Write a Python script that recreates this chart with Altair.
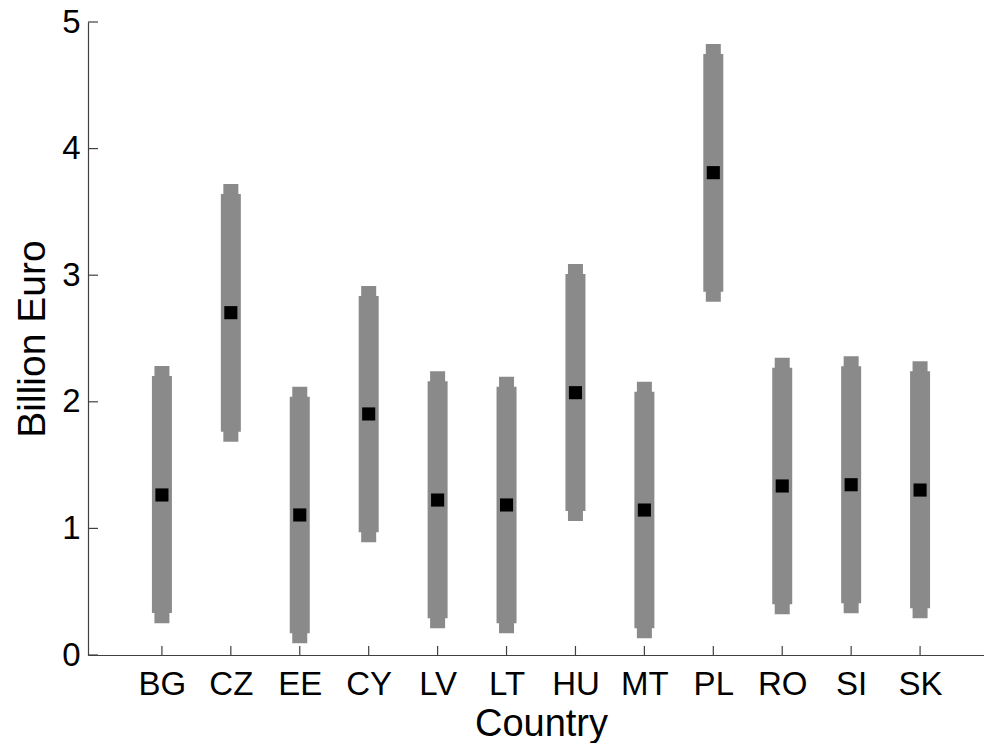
import json
import altair as alt
import pandas as pd

# Country codes along the x axis
countries = ["BG", "CZ", "EE", "CY", "LV", "LT", "HU", "MT", "PL", "RO", "SI", "SK"]

# Full range (outer band) in billion euro
outer_lo = [0.25, 1.685, 0.092, 0.890, 0.211, 0.171, 1.058, 0.132, 2.79, 0.321, 0.329, 0.290]
outer_hi = [2.283, 3.72, 2.119, 2.915, 2.241, 2.198, 3.088, 2.159, 4.826, 2.348, 2.359, 2.320]

# Inner band in billion euro
inner_lo = [0.332, 1.764, 0.171, 0.969, 0.290, 0.250, 1.137, 0.211, 2.87, 0.400, 0.408, 0.369]
inner_hi = [2.204, 3.641, 2.040, 2.836, 2.162, 2.119, 3.009, 2.080, 4.747, 2.269, 2.280, 2.241]

# Central estimate in billion euro
central = [1.264, 2.704, 1.106, 1.904, 1.224, 1.185, 2.072, 1.145, 3.81, 1.335, 1.345, 1.303]

y_ticks = [0, 1, 2, 3, 4, 5]

W, H = 896, 633
FONT = "Liberation Sans"
GRAY = "#8a8a8a"
AXIS_COLOR = "#404040"

df = pd.DataFrame({
    "idx": list(range(1, len(countries) + 1)),
    "country": countries,
    "outer_lo": outer_lo,
    "outer_hi": outer_hi,
    "inner_lo": inner_lo,
    "inner_hi": inner_hi,
    "central": central,
})
ticks_df = pd.DataFrame({"v": y_ticks})

label_expr = json.dumps(countries) + "[datum.value - 1]"

x_scale = alt.Scale(domain=[0, 12.855], nice=False, zero=False)
y_scale = alt.Scale(domain=[0, 5], nice=False)

x_axis = alt.Axis(
    values=list(range(1, len(countries) + 1)),
    labelExpr=label_expr,
    ticks=False,
    grid=False,
    labelFont=FONT, labelFontSize=33, labelColor="black",
    labelBaseline="alphabetic", labelPadding=39,
    domainColor=AXIS_COLOR, domainWidth=1.2,
    title="Country", titleFont=FONT, titleFontSize=38, titleFontWeight="normal",
    titleColor="black", titleBaseline="alphabetic", titleX=453, titleY=80,
)
y_axis = alt.Axis(
    values=y_ticks,
    format="d",
    ticks=False,
    grid=False,
    labelFont=FONT, labelFontSize=33, labelColor="black",
    labelPadding=8,
    domainColor=AXIS_COLOR, domainWidth=1.2,
    title="Billion Euro", titleFont=FONT, titleFontSize=39, titleFontWeight="normal",
    titleColor="black", titleBaseline="alphabetic", titleX=-44, titleY=316.5,
    titleAngle=270,
)

base = alt.Chart(df)

outer = base.mark_bar(color=GRAY, size=15).encode(
    x=alt.X("idx:Q", scale=x_scale, axis=x_axis),
    y=alt.Y("outer_lo:Q", scale=y_scale, axis=y_axis),
    y2="outer_hi:Q",
)
inner = base.mark_bar(color=GRAY, size=20).encode(
    x=alt.X("idx:Q", scale=x_scale),
    y=alt.Y("inner_lo:Q", scale=y_scale),
    y2="inner_hi:Q",
)
points = base.mark_square(color="black", size=172, opacity=1).encode(
    x=alt.X("idx:Q", scale=x_scale),
    y=alt.Y("central:Q", scale=y_scale),
)

# inward-pointing tick marks
x_ticks = base.mark_rule(color=AXIS_COLOR, strokeWidth=1.2).encode(
    x=alt.X("idx:Q", scale=x_scale),
    y=alt.datum(0, scale=y_scale),
    y2=alt.value(H - 9),
)
y_tick_marks = alt.Chart(ticks_df).mark_rule(color=AXIS_COLOR, strokeWidth=1.2).encode(
    y=alt.Y("v:Q", scale=y_scale),
    x=alt.value(0),
    x2=alt.value(10),
)

chart = (
    alt.layer(outer, inner, points, x_ticks, y_tick_marks)
    .properties(
        width=W,
        height=H,
        autosize=alt.AutoSizeParams(type="none"),
        padding={"left": 88, "top": 22, "right": 0, "bottom": 88},
        background="white",
    )
    .configure_view(stroke=None)
)

chart.save("out.html", embed_options={"renderer": "svg", "actions": False})
